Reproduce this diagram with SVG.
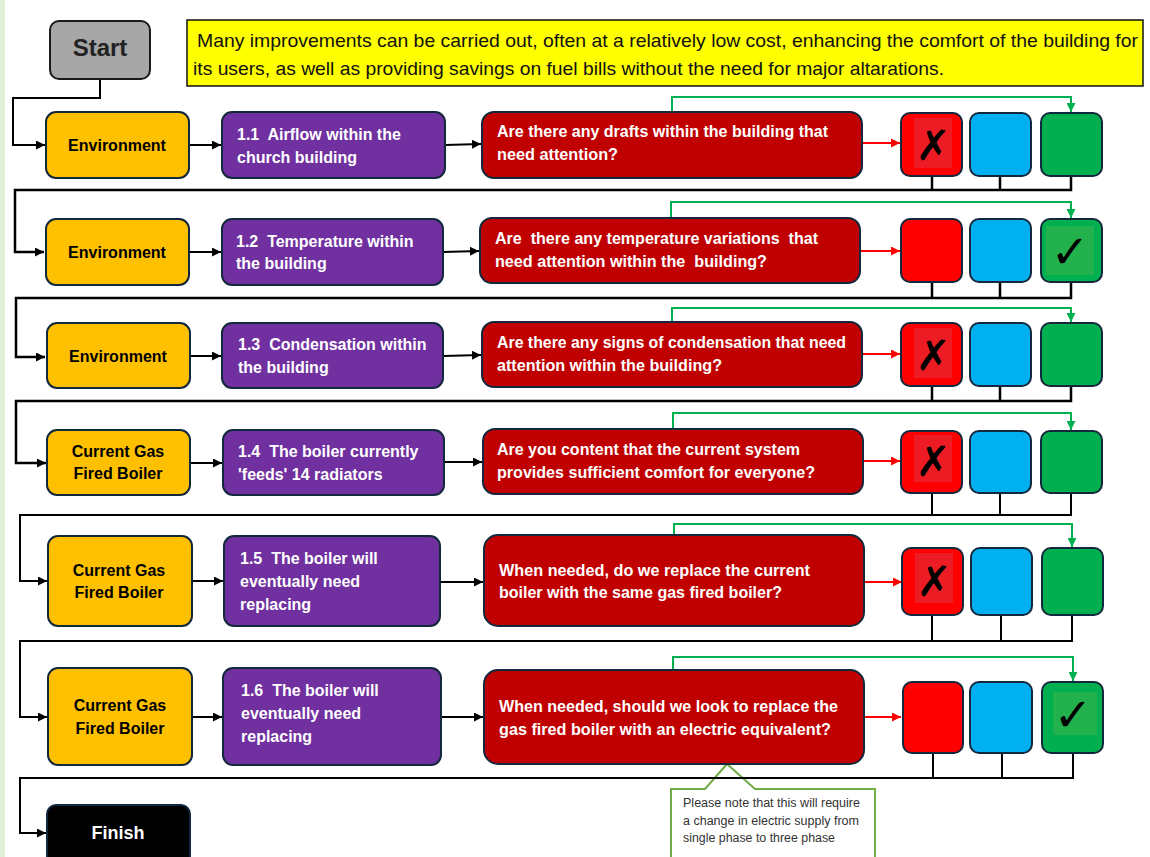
<svg xmlns="http://www.w3.org/2000/svg" width="1150" height="857" viewBox="0 0 1150 857">
<defs>
<style>
.env{fill:#ffc000;stroke:#13283c;stroke-width:2}
.pur{fill:#7030a0;stroke:#13283c;stroke-width:2}
.q{fill:#c00000;stroke:#13283c;stroke-width:2}
.sr{fill:#ff0000;stroke:#13283c;stroke-width:2}
.sb{fill:#00b0f0;stroke:#13283c;stroke-width:2}
.sg{fill:#00b050;stroke:#13283c;stroke-width:2}
text{white-space:pre}
.te{font-family:"Liberation Sans",Arial,sans-serif;font-weight:bold;font-size:16px;fill:#000;text-anchor:middle}
.tp{font-family:"Liberation Sans",Arial,sans-serif;font-weight:bold;font-size:16px;fill:#fff}
.tq{font-family:"Liberation Sans",Arial,sans-serif;font-weight:bold;font-size:16px;fill:#fff}
.ty{font-family:"Liberation Sans",Arial,sans-serif;font-size:19px;fill:#111}
.tc{font-family:"Liberation Sans",Arial,sans-serif;font-size:12px;fill:#333}
.mark{font-family:"DejaVu Sans",sans-serif;fill:#000;text-anchor:middle}
.blk{fill:none;stroke:#000;stroke-width:2}
.loop{fill:none;stroke:#000;stroke-width:2.5}
.red{fill:none;stroke:#ff0000;stroke-width:2}
.grn{fill:none;stroke:#00b050;stroke-width:2}
</style>
<marker id="ab" viewBox="0 0 10 10" refX="10" refY="5" markerUnits="userSpaceOnUse" markerWidth="9" markerHeight="9" orient="auto"><path d="M0,0 L10,5 L0,10 Z" fill="#000"/></marker>
<marker id="ar" viewBox="0 0 10 10" refX="10" refY="5" markerUnits="userSpaceOnUse" markerWidth="9" markerHeight="9" orient="auto"><path d="M0,0 L10,5 L0,10 Z" fill="#ff0000"/></marker>
<marker id="ag" viewBox="0 0 10 10" refX="10" refY="5" markerUnits="userSpaceOnUse" markerWidth="9" markerHeight="9" orient="auto"><path d="M0,0 L10,5 L0,10 Z" fill="#00b050"/></marker>
</defs>
<rect x="0" y="0" width="1150" height="857" fill="#fff"/>
<rect x="0" y="0" width="5" height="857" fill="#e2f0d9"/>

<g id="note">
<path d="M671,789 L705,789 L727,764 L755,789 L875,789 L875,862 L671,862 Z" fill="#fff" stroke="#70ad47" stroke-width="2"/>
<text class="tc" x="683" y="807" textLength="177" lengthAdjust="spacingAndGlyphs">Please note that this will require</text>
<text class="tc" x="683" y="825" textLength="176" lengthAdjust="spacingAndGlyphs">a change in electric supply from</text>
<text class="tc" x="683" y="842" textLength="152" lengthAdjust="spacingAndGlyphs">single phase to three phase</text>
</g>

<g id="connectors">
<path class="blk" d="M100,80 V98 H13 V145 H45" marker-end="url(#ab)"/>
<!-- row 1 -->
<line class="blk" x1="189" y1="145" x2="221" y2="145" marker-end="url(#ab)"/>
<line class="blk" x1="445" y1="145" x2="481" y2="144" marker-end="url(#ab)"/>
<line class="red" x1="862" y1="143" x2="900" y2="143" marker-end="url(#ar)"/>
<path class="grn" d="M672,112 V97 H1071 V112" marker-end="url(#ag)"/>
<path class="loop" d="M932,176 V190 M1000,176 V190 M1071,176 V190 H15 V252 H44" marker-end="url(#ab)"/>
<!-- row 2 -->
<line class="blk" x1="189" y1="252" x2="221" y2="252" marker-end="url(#ab)"/>
<line class="blk" x1="443" y1="252" x2="479" y2="251" marker-end="url(#ab)"/>
<line class="red" x1="860" y1="251" x2="900" y2="251" marker-end="url(#ar)"/>
<path class="grn" d="M671,218 V202 H1071 V218" marker-end="url(#ag)"/>
<path class="loop" d="M932,282 V298 M1000,282 V298 M1071,282 V298 H16 V357 H45" marker-end="url(#ab)"/>
<!-- row 3 -->
<line class="blk" x1="190" y1="356" x2="221" y2="356" marker-end="url(#ab)"/>
<line class="blk" x1="443" y1="356" x2="481" y2="355" marker-end="url(#ab)"/>
<line class="red" x1="862" y1="354" x2="900" y2="354" marker-end="url(#ar)"/>
<path class="grn" d="M672,322 V308 H1071 V322" marker-end="url(#ag)"/>
<path class="loop" d="M932,386 V401 M1000,386 V401 M1071,386 V401 H16 V463 H46" marker-end="url(#ab)"/>
<!-- row 4 -->
<line class="blk" x1="190" y1="463" x2="222" y2="463" marker-end="url(#ab)"/>
<line class="blk" x1="444" y1="462" x2="482" y2="462" marker-end="url(#ab)"/>
<line class="red" x1="863" y1="461" x2="900" y2="461" marker-end="url(#ar)"/>
<path class="grn" d="M673,429 V413 H1071 V430" marker-end="url(#ag)"/>
<path class="blk" d="M932,493 V515 M1000,493 V515 M1071,493 V515 H20 V581 H47" marker-end="url(#ab)"/>
<!-- row 5 -->
<line class="blk" x1="192" y1="581" x2="223" y2="581" marker-end="url(#ab)"/>
<line class="blk" x1="440" y1="582" x2="483" y2="582" marker-end="url(#ab)"/>
<line class="red" x1="864" y1="582" x2="902" y2="582" marker-end="url(#ar)"/>
<path class="grn" d="M674,535 V524 H1072 V547" marker-end="url(#ag)"/>
<path class="blk" d="M932,615 V641 M1001,615 V641 M1072,615 V641 H20 V717 H47" marker-end="url(#ab)"/>
<!-- row 6 -->
<line class="blk" x1="192" y1="717" x2="222" y2="717" marker-end="url(#ab)"/>
<line class="blk" x1="441" y1="717" x2="483" y2="717" marker-end="url(#ab)"/>
<line class="red" x1="864" y1="717" x2="901" y2="717" marker-end="url(#ar)"/>
<path class="grn" d="M673,670 V657 H1073 V681" marker-end="url(#ag)"/>
<path class="blk" d="M933,753 V778 M1002,753 V778 M1073,753 V778 H20 V833 H46" marker-end="url(#ab)"/>
</g>

<g id="start"><rect x="50" y="21" width="100" height="58" rx="9" fill="#a6a6a6" stroke="#1a1a1a" stroke-width="2"/><text x="100" y="56" font-family="Liberation Sans,Arial,sans-serif" font-weight="bold" font-size="24" fill="#222" text-anchor="middle">Start</text></g>

<g id="intro"><rect x="187" y="20" width="956" height="66" fill="#ffff00" stroke="#111" stroke-width="1.5"/>
<text class="ty" x="197" y="47" textLength="941" lengthAdjust="spacingAndGlyphs">Many improvements can be carried out, often at a relatively low cost, enhancing the comfort of the building for</text>
<text class="ty" x="193" y="75" textLength="751" lengthAdjust="spacingAndGlyphs">its users, as well as providing savings on fuel bills without the need for major altarations.</text></g>

<!-- Row 1 -->
<g id="env1"><rect class="env" x="46" y="112" width="143" height="66" rx="10"/><text class="te" x="117" y="151">Environment</text></g>
<g id="p11"><rect class="pur" x="222" y="112" width="223" height="66" rx="10"/><text class="tp" x="237" y="140">1.1  Airflow within the</text><text class="tp" x="237" y="163">church building</text></g>
<g id="q1"><rect class="q" x="482" y="112" width="380" height="66" rx="12"/><text class="tq" x="497" y="137" textLength="331" lengthAdjust="spacingAndGlyphs">Are there any drafts within the building that</text><text class="tq" x="497" y="160" textLength="121" lengthAdjust="spacingAndGlyphs">need attention?</text></g>
<g id="s1r"><rect class="sr" x="901" y="113" width="61" height="63" rx="9"/><rect x="914" y="118" width="38" height="50" fill="#ed1c24"/><text class="mark" x="933" y="160" font-size="42">✗</text></g>
<g id="s1b"><rect class="sb" x="970" y="113" width="61" height="63" rx="9"/></g>
<g id="s1g"><rect class="sg" x="1041" y="113" width="61" height="63" rx="9"/></g>

<!-- Row 2 -->
<g id="env2"><rect class="env" x="46" y="219" width="143" height="66" rx="10"/><text class="te" x="117" y="258">Environment</text></g>
<g id="p12"><rect class="pur" x="222" y="219" width="221" height="66" rx="10"/><text class="tp" x="236" y="247">1.2  Temperature within</text><text class="tp" x="236" y="269">the building</text></g>
<g id="q2"><rect class="q" x="480" y="218" width="380" height="65" rx="12"/><text class="tq" x="495" y="244" textLength="323" lengthAdjust="spacingAndGlyphs">Are  there any temperature variations  that</text><text class="tq" x="495" y="267" textLength="272" lengthAdjust="spacingAndGlyphs">need attention within the  building?</text></g>
<g id="s2r"><rect class="sr" x="901" y="219" width="61" height="63" rx="9"/></g>
<g id="s2b"><rect class="sb" x="970" y="219" width="61" height="63" rx="9"/></g>
<g id="s2g"><rect class="sg" x="1041" y="219" width="61" height="63" rx="9"/><rect x="1046" y="226" width="48" height="49" fill="#22b14c"/><text class="mark" x="1070" y="268" font-size="46">✓</text></g>

<!-- Row 3 -->
<g id="env3"><rect class="env" x="47" y="323" width="143" height="65" rx="10"/><text class="te" x="118" y="362">Environment</text></g>
<g id="p13"><rect class="pur" x="222" y="323" width="221" height="65" rx="10"/><text class="tp" x="238" y="350">1.3  Condensation within</text><text class="tp" x="238" y="373">the building</text></g>
<g id="q3"><rect class="q" x="482" y="322" width="380" height="65" rx="12"/><text class="tq" x="497" y="348" textLength="349" lengthAdjust="spacingAndGlyphs">Are there any signs of condensation that need</text><text class="tq" x="497" y="371" textLength="225" lengthAdjust="spacingAndGlyphs">attention within the building?</text></g>
<g id="s3r"><rect class="sr" x="901" y="323" width="61" height="63" rx="9"/><rect x="914" y="328" width="38" height="50" fill="#ed1c24"/><text class="mark" x="933" y="370" font-size="42">✗</text></g>
<g id="s3b"><rect class="sb" x="970" y="323" width="61" height="63" rx="9"/></g>
<g id="s3g"><rect class="sg" x="1041" y="323" width="61" height="63" rx="9"/></g>

<!-- Row 4 -->
<g id="env4"><rect class="env" x="47" y="430" width="143" height="65" rx="10"/><text class="te" x="118" y="457">Current Gas</text><text class="te" x="118" y="479">Fired Boiler</text></g>
<g id="p14"><rect class="pur" x="223" y="430" width="221" height="65" rx="10"/><text class="tp" x="238" y="457">1.4  The boiler currently</text><text class="tp" x="238" y="480">'feeds' 14 radiators</text></g>
<g id="q4"><rect class="q" x="483" y="429" width="380" height="65" rx="12"/><text class="tq" x="497" y="455" textLength="303" lengthAdjust="spacingAndGlyphs">Are you content that the current system</text><text class="tq" x="497" y="478" textLength="318" lengthAdjust="spacingAndGlyphs">provides sufficient comfort for everyone?</text></g>
<g id="s4r"><rect class="sr" x="901" y="431" width="61" height="62" rx="9"/><rect x="914" y="435" width="38" height="47" fill="#ed1c24"/><text class="mark" x="933" y="476" font-size="42">✗</text></g>
<g id="s4b"><rect class="sb" x="970" y="431" width="61" height="62" rx="9"/></g>
<g id="s4g"><rect class="sg" x="1041" y="431" width="61" height="62" rx="9"/></g>

<!-- Row 5 -->
<g id="env5"><rect class="env" x="48" y="536" width="144" height="90" rx="10"/><text class="te" x="119" y="576">Current Gas</text><text class="te" x="119" y="598">Fired Boiler</text></g>
<g id="p15"><rect class="pur" x="224" y="536" width="216" height="90" rx="10"/><text class="tp" x="240" y="564">1.5  The boiler will</text><text class="tp" x="240" y="587">eventually need</text><text class="tp" x="240" y="610">replacing</text></g>
<g id="q5"><rect class="q" x="484" y="535" width="380" height="91" rx="14"/><text class="tq" x="499" y="576" textLength="311" lengthAdjust="spacingAndGlyphs">When needed, do we replace the current</text><text class="tq" x="499" y="598" textLength="283" lengthAdjust="spacingAndGlyphs">boiler with the same gas fired boiler?</text></g>
<g id="s5r"><rect class="sr" x="902" y="548" width="61" height="67" rx="9"/><rect x="915" y="553" width="38" height="50" fill="#ed1c24"/><text class="mark" x="934" y="596" font-size="42">✗</text></g>
<g id="s5b"><rect class="sb" x="971" y="548" width="61" height="67" rx="9"/></g>
<g id="s5g"><rect class="sg" x="1042" y="548" width="61" height="67" rx="9"/></g>

<!-- Row 6 -->
<g id="env6"><rect class="env" x="48" y="668" width="144" height="97" rx="10"/><text class="te" x="120" y="711">Current Gas</text><text class="te" x="120" y="734">Fired Boiler</text></g>
<g id="p16"><rect class="pur" x="223" y="668" width="218" height="97" rx="10"/><text class="tp" x="241" y="696">1.6  The boiler will</text><text class="tp" x="241" y="719">eventually need</text><text class="tp" x="241" y="742">replacing</text></g>
<g id="q6"><rect class="q" x="484" y="670" width="380" height="94" rx="14"/><text class="tq" x="499" y="712" textLength="339" lengthAdjust="spacingAndGlyphs">When needed, should we look to replace the</text><text class="tq" x="499" y="735" textLength="332" lengthAdjust="spacingAndGlyphs">gas fired boiler with an electric equivalent?</text></g>
<g id="s6r"><rect class="sr" x="903" y="682" width="60" height="71" rx="9"/></g>
<g id="s6b"><rect class="sb" x="970" y="682" width="62" height="71" rx="9"/></g>
<g id="s6g"><rect class="sg" x="1042" y="682" width="61" height="71" rx="9"/><rect x="1053" y="692" width="44" height="43" fill="#22b14c"/><text class="mark" x="1073" y="731" font-size="46">✓</text></g>

<g id="finish"><rect x="47" y="805" width="143" height="60" rx="9" fill="#000" stroke="#13283c" stroke-width="2"/><text x="118" y="839" font-family="Liberation Sans,Arial,sans-serif" font-weight="bold" font-size="18" fill="#fff" text-anchor="middle">Finish</text></g>
</svg>
